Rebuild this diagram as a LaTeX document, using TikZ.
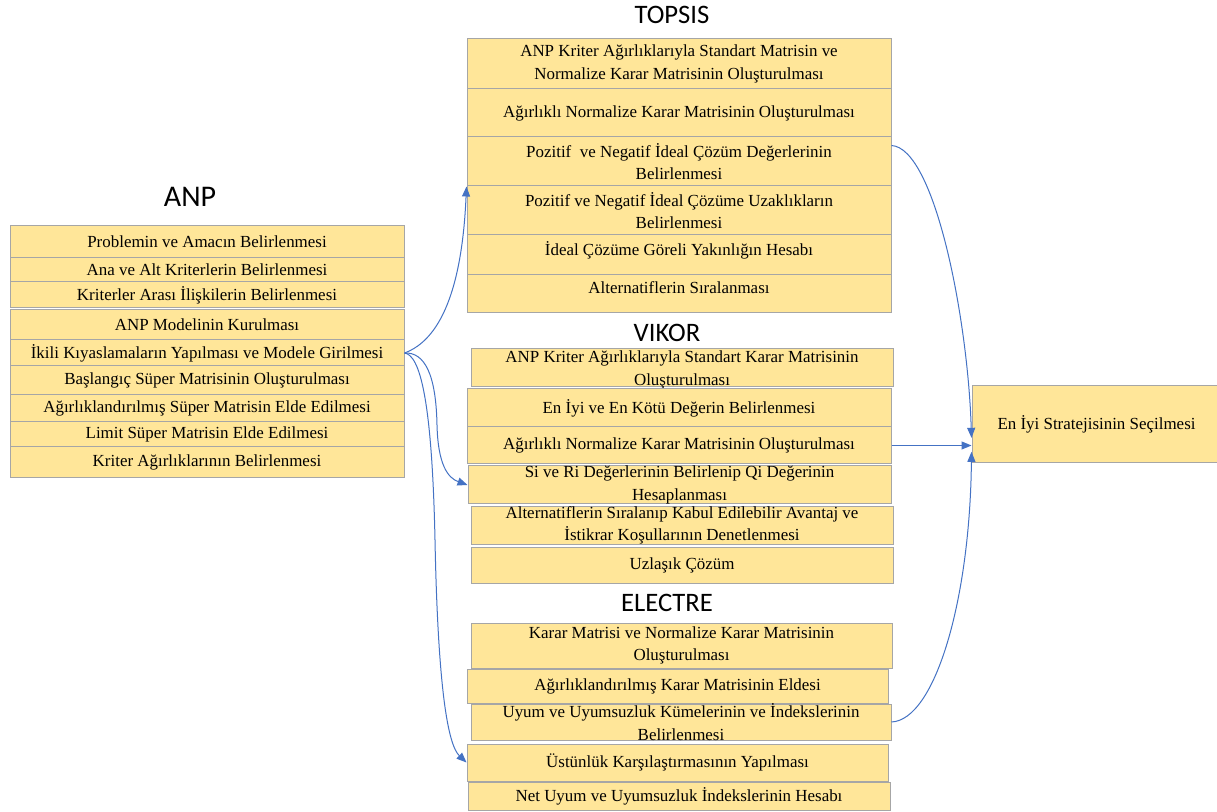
\documentclass[tikz,border=0pt]{standalone}
\usepackage{fontspec}
\setmainfont{Liberation Serif}
\newfontfamily\titlefont{Carlito}
\usetikzlibrary{fit,arrows.meta}
\definecolor{boxfill}{HTML}{FFE699}
\definecolor{boxline}{HTML}{A6A6A6}
\definecolor{arrblue}{HTML}{4472C4}
\newcommand{\mkrow}[7][0pt]{%
  \node[rowbox, fit={(#3,#4) (#5,#6)}] (#2) {};
  \node[rowtext] (#2t) at ([yshift=#1]#2.center) {#7};
}
\begin{document}
\begin{tikzpicture}[x=0.75pt,y=-0.75pt,
  rowbox/.style={draw=boxline, fill=boxfill, line width=0.75pt, inner sep=0pt},
  rowtext/.style={align=center, inner sep=0pt, font=\fontsize{12.7}{17}\selectfont},
  title/.style={font=\titlefont\fontsize{20}{24}\selectfont, inner sep=0pt},
  arr/.style={draw=arrblue, line width=0.75pt, -{Triangle[length=7.5pt,width=6pt]}}]
\useasboundingbox (0,0) rectangle (1217,812);
\fill[white] (0,0) rectangle (1217,812);

% ANP
\node[title, font=\titlefont\fontsize{22.5}{26}\selectfont] (anp) at (190,197) {ANP};
\mkrow{a1}{10}{226}{404}{258}{Problemin ve Amacın Belirlenmesi}
\mkrow{a2}{10}{258}{404}{282}{Ana ve Alt Kriterlerin Belirlenmesi}
\mkrow{a3}{10}{282}{404}{308}{Kriterler Arası İlişkilerin Belirlenmesi}
\mkrow{a4}{10}{310}{404}{340}{ANP Modelinin Kurulması}
\mkrow{a5}{10}{340}{404}{366}{İkili Kıyaslamaların Yapılması ve Modele Girilmesi}
\mkrow{a6}{10}{366}{404}{395}{Başlangıç Süper Matrisinin Oluşturulması}
\mkrow{a7}{10}{395}{404}{422}{Ağırlıklandırılmış Süper Matrisin Elde Edilmesi}
\mkrow{a8}{10}{422}{404}{447}{Limit Süper Matrisin Elde Edilmesi}
\mkrow{a9}{10}{447}{404}{478}{Kriter Ağırlıklarının Belirlenmesi}

% TOPSIS
\node[title] (topsis) at (672,15) {TOPSIS};
\mkrow{t1}{467}{39}{891}{89}{ANP Kriter Ağırlıklarıyla Standart Matrisin ve\\Normalize Karar Matrisinin Oluşturulması}
\mkrow{t2}{467}{89}{891}{137}{Ağırlıklı Normalize Karar Matrisinin Oluşturulması}
\mkrow{t3}{467}{137}{891}{186}{Pozitif~ ve Negatif İdeal Çözüm Değerlerinin\\Belirlenmesi}
\mkrow{t4}{467}{186}{891}{235}{Pozitif ve Negatif İdeal Çözüme Uzaklıkların\\Belirlenmesi}
\mkrow[3.75pt]{t5}{467}{235}{891}{275}{İdeal Çözüme Göreli Yakınlığın Hesabı}
\mkrow[5pt]{t6}{467}{275}{891}{313}{Alternatiflerin Sıralanması}

% VIKOR
\node[title] (vikor) at (667,333) {VIKOR};
\mkrow[-1.5pt]{v1}{471}{349}{893}{387}{ANP Kriter Ağırlıklarıyla Standart Karar Matrisinin\\Oluşturulması}
\mkrow{v2}{467}{389}{891}{427}{En İyi ve En Kötü Değerin Belirlenmesi}
\mkrow{v3}{467}{427}{891}{464}{Ağırlıklı Normalize Karar Matrisinin Oluşturulması}
\mkrow{v4}{468}{466}{891}{504}{Si ve Ri Değerlerinin Belirlenip Qi Değerinin\\Hesaplanması}
\mkrow{v5}{471}{507}{893}{544}{Alternatiflerin Sıralanıp Kabul Edilebilir Avantaj ve\\İstikrar Koşullarının Denetlenmesi}
\mkrow{v6}{471}{547}{893}{583}{Uzlaşık Çözüm}

% ELECTRE
\node[title] (electre) at (667,603) {ELECTRE};
\mkrow{e1}{471}{623}{892}{668}{Karar Matrisi ve Normalize Karar Matrisinin\\Oluşturulması}
\mkrow{e2}{467}{669}{888}{703}{Ağırlıklandırılmış Karar Matrisinin Eldesi}
\mkrow{e3}{471}{704}{891}{740}{Uyum ve Uyumsuzluk Kümelerinin ve İndekslerinin\\Belirlenmesi}
\mkrow{e4}{467}{744}{888}{781}{Üstünlük Karşılaştırmasının Yapılması}
\mkrow{e5}{468}{782}{890}{810}{Net Uyum ve Uyumsuzluk İndekslerinin Hesabı}

% Goal
\mkrow{g}{972}{386}{1221}{463}{En İyi Stratejisinin Seçilmesi}

% Left connectors
\draw[arr] (a5.east) .. controls (440,340) and (462,290) .. (t3.south west);
\draw[arr] (a5.east) .. controls (425,352) and (436,375) .. (437,425) .. controls (438,465) and (448,478) .. (v4.west);
\draw[arr] (a5.east) .. controls (420,355) and (432,400) .. (435,540) .. controls (438,690) and (448,745) .. (e4.west);

% Right connectors
\draw[arr] ([yshift=12pt]t3.east) .. controls (935,148) and (968,320) .. ([yshift=-10pt]g.west);
\draw[arr] (v3.east) -- (v3.east -| g.west);
\draw[arr] (e3.east) .. controls (935,720) and (970,600) .. ([yshift=-20.5pt]g.west);
\end{tikzpicture}
\end{document}
